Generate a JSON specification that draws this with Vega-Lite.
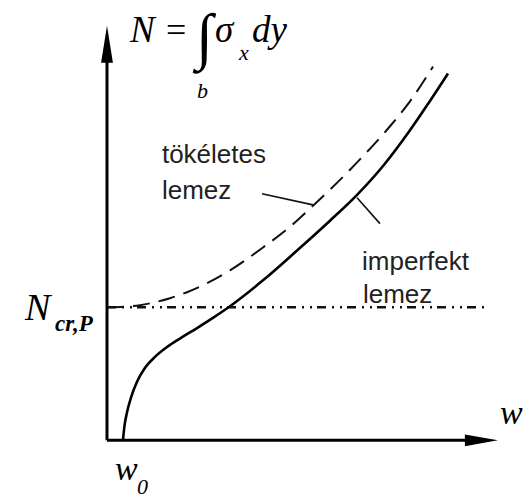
{
  "$schema": "https://vega.github.io/schema/vega-lite/v6.json",
  "width": 525,
  "height": 499,
  "autosize": {"type": "fit", "contains": "padding"},
  "padding": 0,
  "background": "white",
  "config": {"view": {"stroke": null}},
  "datasets": {
    "imperfect": [
      {"w": 0.119, "N": 0.0},
      {"w": 0.131, "N": 0.112},
      {"w": 0.149, "N": 0.209},
      {"w": 0.179, "N": 0.321},
      {"w": 0.224, "N": 0.44},
      {"w": 0.284, "N": 0.545},
      {"w": 0.358, "N": 0.627},
      {"w": 0.448, "N": 0.701},
      {"w": 0.552, "N": 0.769},
      {"w": 0.672, "N": 0.843},
      {"w": 0.799, "N": 0.925},
      {"w": 0.918, "N": 1.007},
      {"w": 1.164, "N": 1.201},
      {"w": 1.418, "N": 1.425},
      {"w": 1.664, "N": 1.649},
      {"w": 1.866, "N": 1.843},
      {"w": 2.06, "N": 2.06},
      {"w": 2.261, "N": 2.328},
      {"w": 2.403, "N": 2.537},
      {"w": 2.545, "N": 2.754}
    ],
    "perfect": [
      {"w": 0.0, "N": 1.0},
      {"w": 0.134, "N": 1.004},
      {"w": 0.246, "N": 1.015},
      {"w": 0.358, "N": 1.037},
      {"w": 0.47, "N": 1.067},
      {"w": 0.597, "N": 1.112},
      {"w": 0.746, "N": 1.179},
      {"w": 0.918, "N": 1.276},
      {"w": 1.164, "N": 1.448},
      {"w": 1.366, "N": 1.604},
      {"w": 1.537, "N": 1.761},
      {"w": 1.716, "N": 1.933},
      {"w": 1.925, "N": 2.149},
      {"w": 2.112, "N": 2.358},
      {"w": 2.261, "N": 2.545},
      {"w": 2.433, "N": 2.806}
    ],
    "axes": [
      {"axis": "w", "w": 0, "N": 0, "w2": 2.709, "N2": 0},
      {"axis": "N", "w": 0, "N": 0, "w2": 0, "N2": 2.858}
    ],
    "critical": [
      {"w": 0, "N": 1.0, "w2": 2.821, "N2": 1.0}
    ],
    "leaders": [
      {"label": "tökéletes lemez", "w": 1.157, "N": 1.851, "w2": 1.537, "N2": 1.768},
      {"label": "imperfekt lemez", "w": 1.866, "N": 1.821, "w2": 2.037, "N2": 1.627}
    ],
    "curveLabels": [
      {"text": "tökéletes", "w": 0.41, "N": 2.082},
      {"text": "lemez", "w": 0.41, "N": 1.813},
      {"text": "imperfekt", "w": 1.903, "N": 1.276},
      {"text": "lemez", "w": 1.91, "N": 1.03}
    ]
  },
  "encoding": {
    "x": {
      "field": "w",
      "type": "quantitative",
      "scale": {"domain": [-0.7985, 3.1194], "nice": false, "zero": false},
      "axis": null
    },
    "y": {
      "field": "N",
      "type": "quantitative",
      "scale": {"domain": [-0.4179, 3.306], "nice": false, "zero": false},
      "axis": null
    }
  },
  "layer": [
    {
      "data": {"name": "critical"},
      "mark": {"type": "rule", "stroke": "#111", "strokeWidth": 2.5, "strokeDash": [9, 6, 2, 6, 2, 5]},
      "encoding": {"x2": {"field": "w2"}, "y2": {"field": "N2"}}
    },
    {
      "data": {"name": "axes"},
      "mark": {"type": "rule", "stroke": "#000", "strokeWidth": 3},
      "encoding": {"x2": {"field": "w2"}, "y2": {"field": "N2"}}
    },
    {
      "data": {"values": [{"w": 2.794, "N": 0}]},
      "mark": {"type": "point", "shape": "M1,0L-1,-0.36L-1,0.36Z", "size": 1089, "filled": true, "color": "#000", "opacity": 1}
    },
    {
      "data": {"values": [{"w": 0, "N": 2.974}]},
      "mark": {"type": "point", "shape": "M0,-1L-0.32,1L0.32,1Z", "size": 1369, "filled": true, "color": "#000", "opacity": 1}
    },
    {
      "data": {"name": "perfect"},
      "mark": {"type": "line", "stroke": "#111", "strokeWidth": 2, "strokeDash": [17, 9], "interpolate": "monotone"}
    },
    {
      "data": {"name": "imperfect"},
      "mark": {"type": "line", "stroke": "#000", "strokeWidth": 2.6, "interpolate": "monotone"}
    },
    {
      "data": {"name": "leaders"},
      "mark": {"type": "rule", "stroke": "#111", "strokeWidth": 1.6},
      "encoding": {"x2": {"field": "w2"}, "y2": {"field": "N2"}}
    },
    {
      "data": {"name": "curveLabels"},
      "mark": {"type": "text", "align": "left", "baseline": "alphabetic", "font": "Liberation Sans", "fontSize": 26, "fill": "#222"},
      "encoding": {"text": {"field": "text"}}
    },
    {
      "data": {"values": [
        {"text": "N", "w": 0.172, "N": 2.993},
        {"text": "σ", "w": 0.806, "N": 2.993},
        {"text": "dy", "w": 1.082, "N": 2.993}
      ]},
      "mark": {"type": "text", "align": "left", "baseline": "alphabetic", "font": "Liberation Serif", "fontStyle": "italic", "fontSize": 37, "fill": "#000"},
      "encoding": {"text": {"field": "text"}}
    },
    {
      "data": {"values": [
        {"text": "w", "w": 0.06, "N": -0.299},
        {"text": "w", "w": 2.933, "N": 0.119}
      ]},
      "mark": {"type": "text", "align": "left", "baseline": "alphabetic", "font": "Liberation Serif", "fontStyle": "italic", "fontSize": 34, "fill": "#000"},
      "encoding": {"text": {"field": "text"}}
    },
    {
      "data": {"values": [{"text": "=", "w": 0.44, "N": 2.993}]},
      "mark": {"type": "text", "align": "left", "baseline": "alphabetic", "font": "Liberation Serif", "fontSize": 36, "fill": "#000"},
      "encoding": {"text": {"field": "text"}}
    },
    {
      "data": {"values": [{"text": "∫", "w": 0.664, "N": 2.88}]},
      "mark": {"type": "text", "align": "left", "baseline": "alphabetic", "font": "Liberation Serif", "fontSize": 62, "fill": "#000"},
      "encoding": {"text": {"field": "text"}}
    },
    {
      "data": {"values": [
        {"text": "x", "w": 0.985, "N": 2.858},
        {"text": "b", "w": 0.672, "N": 2.567},
        {"text": "0", "w": 0.224, "N": -0.403}
      ]},
      "mark": {"type": "text", "align": "left", "baseline": "alphabetic", "font": "Liberation Serif", "fontStyle": "italic", "fontSize": 22, "fill": "#000"},
      "encoding": {"text": {"field": "text"}}
    },
    {
      "data": {"values": [{"text": "N", "w": -0.612, "N": 0.903}]},
      "mark": {"type": "text", "align": "left", "baseline": "alphabetic", "font": "Liberation Serif", "fontStyle": "italic", "fontSize": 38, "fill": "#000"},
      "encoding": {"text": {"field": "text"}}
    },
    {
      "data": {"values": [{"text": "cr,P", "w": -0.388, "N": 0.821}]},
      "mark": {"type": "text", "align": "left", "baseline": "alphabetic", "font": "Liberation Serif", "fontStyle": "italic", "fontWeight": "bold", "fontSize": 23, "fill": "#000"},
      "encoding": {"text": {"field": "text"}}
    }
  ]
}
